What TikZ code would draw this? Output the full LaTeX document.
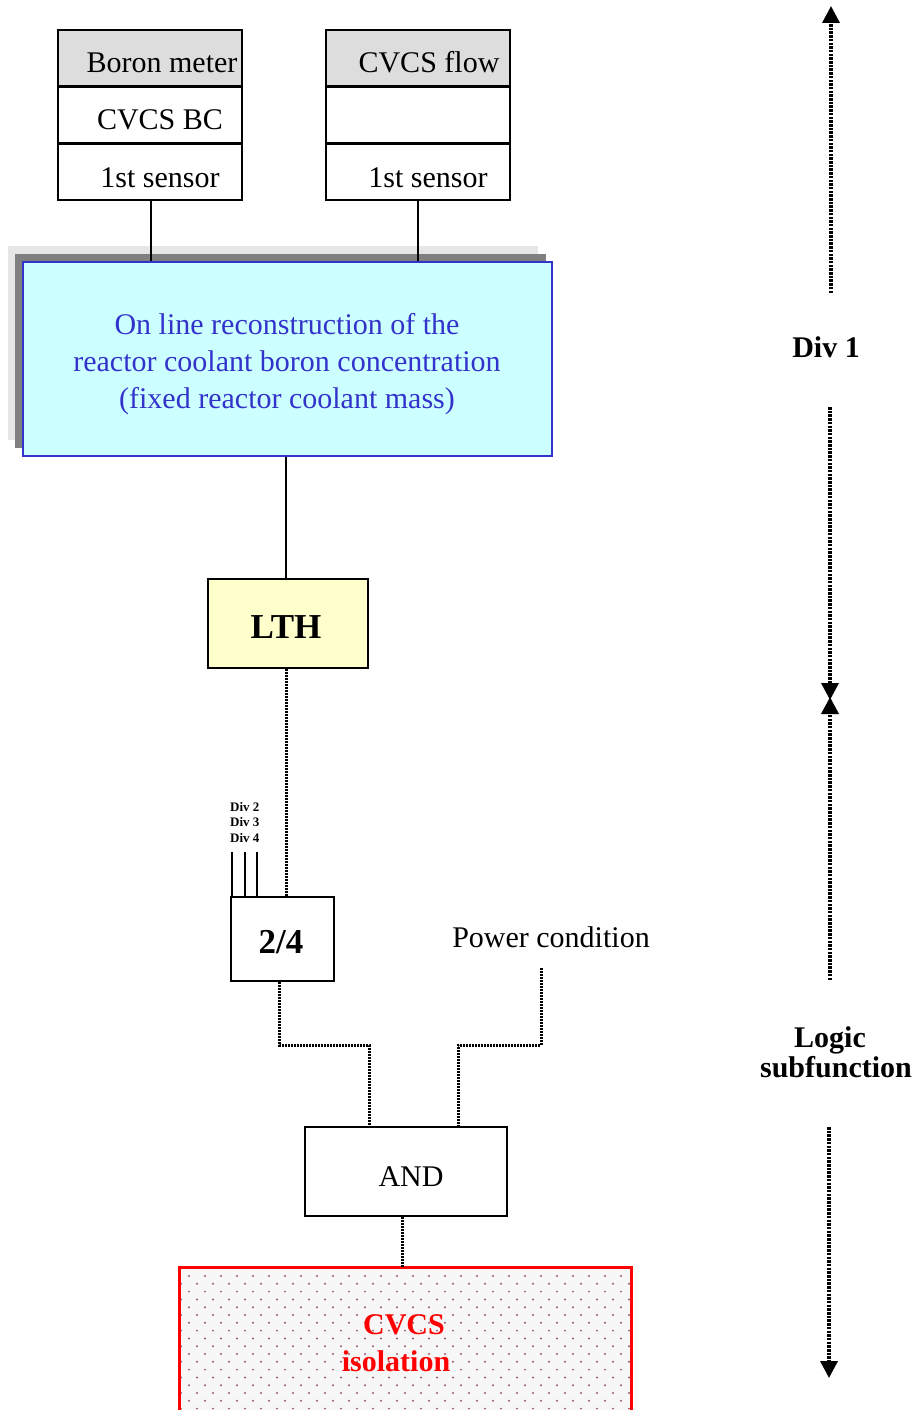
\documentclass[tikz,border=0pt]{standalone}
\usepackage{fontspec}
\setmainfont{Liberation Serif}
\usetikzlibrary{arrows.meta}
\definecolor{hdrgray}{HTML}{DDDDDD}
\definecolor{shadlight}{HTML}{E6E6E6}
\definecolor{shaddark}{HTML}{808080}
\definecolor{recfill}{HTML}{CCFFFF}
\definecolor{recblue}{HTML}{3333CC}
\definecolor{lthfill}{HTML}{FFFFCC}
\definecolor{isored}{HTML}{FF0000}
\definecolor{isodot}{HTML}{A05868}
\begin{document}
\begin{tikzpicture}[x=1pt,y=-1pt,
  cell/.style={draw,line width=2pt,minimum width=184pt,minimum height=57pt,inner sep=0pt},
  txt/.style={font=\fontsize{30}{36}\selectfont,inner sep=0pt,anchor=base},
  btxt/.style={font=\fontsize{30}{36}\selectfont\bfseries,inner sep=0pt,anchor=base},
  divtxt/.style={font=\fontsize{13}{15}\selectfont\bfseries,inner sep=0pt,anchor=base west},
  logicbox/.style={draw,line width=2pt,inner sep=0pt},
  solidline/.style={line width=2pt},
  dotline/.style={line width=3pt,dash pattern=on 2pt off 1pt},
  arrline/.style={line width=3.5pt,dash pattern=on 2.5pt off 1.2pt,-{Triangle[width=17pt,length=17pt]}}
]
\useasboundingbox (0,0) rectangle (919,1410);
\clip (0,0) rectangle (919,1410);

% sensor boxes
\node[cell,fill=hdrgray] (bm1) at (149.5,58.5) {};
\node[cell] (bm2) at (149.5,115) {};
\node[cell] (bm3) at (149.5,171.5) {};
\node[txt] (bm1t) at (162,73) {Boron meter};
\node[txt] (bm2t) at (160,130) {CVCS BC};
\node[txt] (bm3t) at (160,187) {1st sensor};

\node[cell,fill=hdrgray] (cf1) at (418,58.5) {};
\node[cell] (cf2) at (418,115) {};
\node[cell] (cf3) at (418,171.5) {};
\node[txt] (cf1t) at (429,73) {CVCS flow};
\node[txt] (cf3t) at (428,187) {1st sensor};

% reconstruction box with shadows
\fill[shadlight] (8,246) rectangle (538,440);
\fill[shaddark] (15,254) rectangle (546,448);
\node[draw=recblue,fill=recfill,line width=1.8pt,minimum width=529pt,minimum height=194pt,inner sep=0pt] (rec) at (287.5,359) {};
\node[txt,text=recblue] (r1) at (287,334) {On line reconstruction of the};
\node[txt,text=recblue] (r2) at (287,371) {reactor coolant boron concentration};
\node[txt,text=recblue] (r3) at (287,408) {(fixed reactor coolant mass)};

\draw[solidline] (bm3.south -| 151,0) -- (rec.north -| 151,0);
\draw[solidline] (cf3.south) -- (cf3.south |- rec.north);

% LTH
\node[logicbox,fill=lthfill,minimum width=160pt,minimum height=89pt] (lth) at (288,623.5) {};
\node[font=\fontsize{35}{40}\selectfont\bfseries,inner sep=0pt,anchor=base] (ltht) at (286,638) {LTH};
\draw[solidline] (rec.south -| 286,0) -- (lth.north -| 286,0);

% 2/4
\node[logicbox,minimum width=103pt,minimum height=84pt] (q) at (282.5,939) {};
\node[font=\fontsize{35}{40}\selectfont\bfseries,inner sep=0pt,anchor=base] (qt) at (281,953) {2/4};
\draw[dotline] (lth.south -| 286,0) -- (q.north -| 286,0);

\coordinate (d2) at (232,852);
\coordinate (d3) at (244.5,852);
\coordinate (d4) at (257,852);
\draw[solidline] (d2) -- (d2 |- q.north);
\draw[solidline] (d3) -- (d3 |- q.north);
\draw[solidline] (d4) -- (d4 |- q.north);
\node[divtxt] (dv2) at (230,811) {Div 2};
\node[divtxt] (dv3) at (230,826) {Div 3};
\node[divtxt] (dv4) at (230,842) {Div 4};

% power condition
\node[txt] (pc) at (551,947) {Power condition};
\coordinate (pcl) at (541,968);

% AND
\node[logicbox,minimum width=202pt,minimum height=89pt] (and) at (406,1171.5) {};
\node[txt] (andt) at (411,1186) {AND};

\draw[dotline] (q.south -| 279,0) -- (279,1045) -| (and.north -| 369,0);
\draw[dotline] (pcl) -- (541,1045) -| (and.north -| 458,0);

% CVCS isolation
\node[draw=isored,line width=1.8pt,fill=black!3,minimum width=451pt,minimum height=160pt,inner sep=0pt] (iso) at (405.5,1348) {};
\begin{scope}
  \clip (181,1269) rectangle (630,1428);
  \foreach \j in {0,...,18}{
    \pgfmathsetmacro{\yy}{1276+7.8*\j}
    \pgfmathsetmacro{\xo}{mod(\j,2)==0 ? 189 : 181}
    \foreach \i in {0,...,28}{
      \fill[isodot] ({\xo+16*\i},\yy) circle (1.1pt);
    }
  }
\end{scope}
\draw[isored,line width=1.8pt] (iso.south west) -- (iso.north west) -- (iso.north east) -- (iso.south east);
\draw[dotline] (and.south -| 402,0) -- (iso.north -| 402,0);
\node[btxt,text=isored] (iso1) at (404,1334) {CVCS};
\node[btxt,text=isored] (iso2) at (396,1371) {isolation};

% right side scale
\coordinate (a1s) at (831,293);
\coordinate (a1e) at (831,6);
\coordinate (a2s) at (830,407);
\coordinate (a2e) at (830,700);
\coordinate (a3s) at (830,980);
\coordinate (a3e) at (830,697);
\coordinate (a4s) at (829,1127);
\coordinate (a4e) at (829,1378);
\draw[arrline] (a1s) -- (a1e);
\draw[arrline] (a2s) -- (a2e);
\draw[arrline] (a3s) -- (a3e);
\draw[arrline] (a4s) -- (a4e);
\node[btxt] (div1) at (826,357) {Div 1};
\node[btxt] (lg1) at (830,1047) {Logic};
\node[btxt] (lg2) at (836,1077) {subfunction};
\end{tikzpicture}
\end{document}
